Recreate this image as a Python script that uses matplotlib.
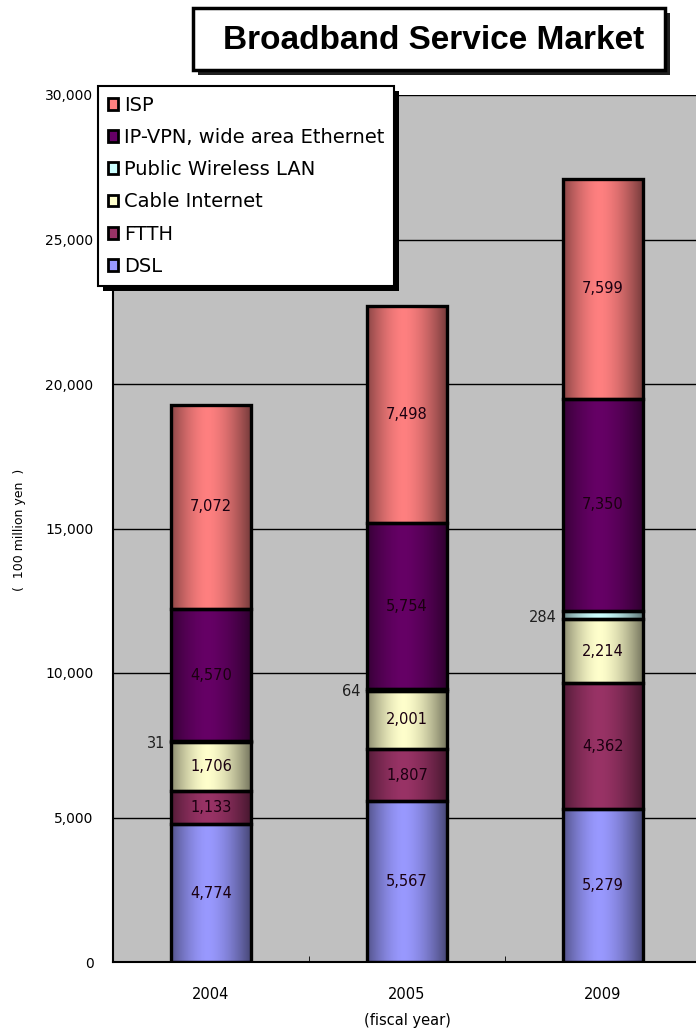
import numpy as np
import matplotlib
matplotlib.use("Agg")
from matplotlib import pyplot as plt
from matplotlib.colors import to_rgb
from matplotlib.patches import Rectangle

plt.rcParams['font.family'] = ['DejaVu Sans']

years = ['2004', '2005', '2009']
series = ['DSL', 'FTTH', 'Cable Internet', 'Public Wireless LAN',
          'IP-VPN, wide area Ethernet', 'ISP']
dsl = [4774, 5567, 5279]
ftth = [1133, 1807, 4362]
cable = [1706, 2001, 2214]
pwlan = [31, 64, 284]
ipvpn = [4570, 5754, 7350]
isp = [7072, 7498, 7599]
values = [dsl, ftth, cable, pwlan, ipvpn, isp]
colors = ['#9999FF', '#993366', '#FFFFCC', '#CCFFFF', '#660066', '#FF8080']

W, H = 696, 1031
fig = plt.figure(figsize=(W / 100, H / 100), dpi=100)
ax = fig.add_axes([113 / W, 1 - 962 / H, (701 - 113) / W, (962 - 95) / H])
ax.set_facecolor('#C0C0C0')

x = np.arange(len(years))
bw = 0.41

def shade(base, n=64):
    # cylinder-style shading: dark edges, light just left of centre
    t = np.linspace(0, 1, n)
    c = 0.45
    d = np.where(t < c, 0.45 * ((c - t) / c) ** 1.6, 0.55 * ((t - c) / (1 - c)) ** 1.6)
    rgb = np.array(to_rgb(base))
    img = rgb[None, :] * (1 - d[:, None])
    return img[None, :, :]

bottom = np.zeros(len(years))
for name, vals, col in zip(series, values, colors):
    vals = np.array(vals, dtype=float)
    bars = ax.bar(x, vals, bw, bottom=bottom, facecolor='none',
                  edgecolor='black', linewidth=2.4, zorder=3, label=name)
    for rect in bars:
        x0, y0 = rect.get_x(), rect.get_y()
        im = ax.imshow(shade(col), extent=[x0, x0 + rect.get_width(), y0, y0 + rect.get_height()],
                       aspect='auto', zorder=2, interpolation='bilinear')
        clip = Rectangle((x0, y0), rect.get_width(), rect.get_height(), transform=ax.transData)
        im.set_clip_path(clip)
    for xi, b, v in zip(x, bottom, vals):
        if name == 'Public Wireless LAN':
            ax.text(xi - bw / 2 - 0.03, b + v / 2 - 60, f'{int(v):,}', ha='right', va='center',
                    fontsize=10.5, color='#202020', zorder=5)
        else:
            ax.text(xi, b + v / 2, f'{int(v):,}', ha='center', va='center',
                    fontsize=10.5, color='#1a0010', zorder=5)
    bottom += vals

ax.set_xlim(-0.5, 2.5)
ax.set_ylim(0, 30000)
ax.set_yticks(np.arange(0, 30001, 5000))
ax.set_yticklabels([f'{v:,}' for v in range(0, 30001, 5000)], fontsize=10)
ax.set_xticks(x)
ax.set_xticklabels(years, fontsize=10.5)
ax.set_xticks([0.5, 1.5], minor=True)
ax.tick_params(axis='x', which='major', length=0, pad=18)
ax.tick_params(axis='x', which='minor', length=4, direction='in', color='black')
ax.tick_params(axis='y', length=0, pad=14)
ax.yaxis.grid(True, color='black', linewidth=1)
ax.set_axisbelow(True)
for s in ['top', 'right']:
    ax.spines[s].set_visible(False)
ax.spines['left'].set_linewidth(1.5)
ax.spines['bottom'].set_linewidth(1.5)

fig.text(20 / W, 1 - 530 / H, '(  100 million yen  )', rotation=90, ha='center', va='center', fontsize=9)
fig.text(407 / W, 1 - 1020 / H, '(fiscal year)', ha='center', va='center', fontsize=10.5)

# legend box with drop shadow
handles = [Rectangle((0, 0), 1, 1, facecolor=c, edgecolor='black', linewidth=2) for c in colors]
leg = fig.legend(handles[::-1], series[::-1], loc='upper left',
                 bbox_to_anchor=(98 / W, 1 - 86 / H), fontsize=14, frameon=True,
                 fancybox=False, shadow=False, framealpha=1, handlelength=0.55, handleheight=0.55,
                 handletextpad=0.3, labelspacing=0.68, borderpad=0.5, borderaxespad=0)
leg.get_frame().set_edgecolor('black')
leg.get_frame().set_linewidth(1.5)
leg.set_zorder(10)
fig.canvas.draw()
bb = leg.get_window_extent().transformed(fig.transFigure.inverted())
fig.patches.append(Rectangle((bb.x0 + 5 / W, bb.y0 - 5 / H), bb.width, bb.height,
                             transform=fig.transFigure, facecolor='black', zorder=9))

# title box
fig.patches.append(Rectangle((198 / W, 1 - 75 / H), (665 - 193) / W, (70 - 8) / H,
                             transform=fig.transFigure, facecolor='#202020', zorder=1))
fig.patches.append(Rectangle((193 / W, 1 - 70 / H), (665 - 193) / W, (70 - 8) / H,
                             transform=fig.transFigure, facecolor='white', edgecolor='black',
                             linewidth=2.5, zorder=2))
fig.text(434 / W, 1 - 40 / H, 'Broadband Service Market', ha='center', va='center',
         fontsize=24, fontweight='bold', family='Liberation Sans', zorder=3)

fig.savefig('out.png', dpi=100)
